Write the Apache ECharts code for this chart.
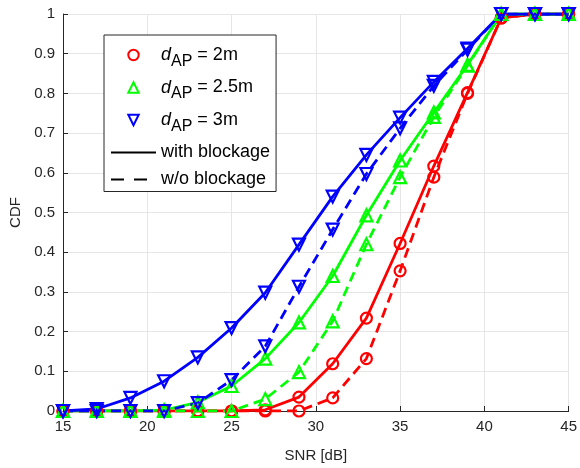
<!DOCTYPE html>
<html>
<head>
<meta charset="utf-8">
<script src="https://cdn.jsdelivr.net/npm/echarts@6/dist/echarts.min.js"></script>
<style>
  html, body { margin: 0; padding: 0; background: #fff; }
  #chart { width: 580px; height: 468px; }
</style>
</head>
<body>
<div id="chart"></div>
<script>
// SNR sample points (dB)
const snr = [15, 17, 19, 21, 23, 25, 27, 29, 31, 33, 35, 37, 39, 41, 43, 45]

// CDF values, with blockage (solid) and without (dashed)
const red2mWith     = [0, 0, 0, 0, 0, 0, 0.003, 0.035, 0.119, 0.234, 0.422, 0.617, 0.802, 0.99, 1, 1]
const red2mWithout  = [0, 0, 0, 0, 0, 0, 0, 0, 0.033, 0.132, 0.353, 0.589, 0.80, 0.99, 1, 1]
const green25With   = [0, 0, 0, 0.002, 0.022, 0.063, 0.132, 0.223, 0.34, 0.493, 0.631, 0.752, 0.872, 1, 1, 1]
const green25Without = [0, 0, 0, 0, 0, 0, 0.03, 0.098, 0.226, 0.42, 0.589, 0.741, 0.87, 1, 1, 1]
const blue3With     = [0, 0.005, 0.033, 0.075, 0.135, 0.209, 0.298, 0.419, 0.54, 0.645, 0.739, 0.829, 0.913, 1, 1, 1]
const blue3Without  = [0, 0, 0, 0, 0.02, 0.078, 0.163, 0.313, 0.457, 0.597, 0.712, 0.819, 0.91, 1, 1, 1]

const yTickLabels = ['0', '0.1', '0.2', '0.3', '0.4', '0.5', '0.6', '0.7', '0.8', '0.9', '1']

const RED = '#ff0000'
const GREEN = '#00ff00'
const BLUE = '#0000ff'
const DASH = [10, 6]
const LEGEND_DASH = [13, 10]

function pairs(ys) {
  return snr.map((x, i) => [x, ys[i]])
}

// marker shape per AP distance
const markers = {
  red: { symbol: 'circle', symbolSize: 11, symbolRotate: 0 },
  green: { symbol: 'triangle', symbolSize: 12, symbolRotate: 0 },
  blue: { symbol: 'triangle', symbolSize: 12, symbolRotate: 180 }
}

function curve(name, ys, color, mk, dashed) {
  return {
    name: name,
    type: 'line',
    data: pairs(ys),
    symbol: mk.symbol,
    symbolSize: mk.symbolSize,
    symbolRotate: mk.symbolRotate,
    showAllSymbol: true,
    lineStyle: { color: color, width: 2.8, type: dashed ? DASH : 'solid' },
    itemStyle: { color: 'rgba(0,0,0,0)', borderColor: color, borderWidth: 2.2 },
    emphasis: { disabled: true },
    z: 3
  }
}

// empty series that only feed the legend
function legendOnly(name, color, mk, lineType) {
  return {
    name: name,
    type: 'line',
    data: [],
    symbol: mk ? mk.symbol : 'none',
    symbolSize: mk ? mk.symbolSize : 0,
    symbolRotate: mk ? mk.symbolRotate : 0,
    lineStyle: { color: color, width: mk ? 0 : 2.8, type: lineType || 'solid' },
    itemStyle: {
      color: 'rgba(0,0,0,0)',
      borderColor: mk ? color : 'rgba(0,0,0,0)',
      borderWidth: mk ? 2.5 : 0
    }
  }
}

const legendText = {
  d2: '{i|d}{s|AP}{t| = 2m}',
  d25: '{i|d}{s|AP}{t| = 2.5m}',
  d3: '{i|d}{s|AP}{t| = 3m}',
  'with blockage': '{t|with blockage}',
  'w/o blockage': '{t|w/o blockage}'
}

const chart = echarts.init(document.getElementById('chart'))
const option = {
  backgroundColor: '#fff',
  animation: false,
  textStyle: { fontFamily: 'Liberation Sans, Arial, sans-serif' },
  grid: { left: 63, right: 11, top: 14, bottom: 57 },
  xAxis: {
    type: 'value',
    min: 15,
    max: 45,
    interval: 5,
    name: 'SNR [dB]',
    nameLocation: 'middle',
    nameGap: 37,
    nameTextStyle: { color: '#262626', fontSize: 15 },
    axisLine: { show: true, lineStyle: { color: '#262626', width: 1 } },
    axisTick: { show: true, inside: true, length: 5, lineStyle: { color: '#262626' } },
    axisLabel: { color: '#262626', fontSize: 15, margin: 8 },
    splitLine: { show: true, lineStyle: { color: '#e6e6e6', width: 1 } }
  },
  yAxis: {
    type: 'value',
    min: 0,
    max: 1,
    interval: 0.1,
    name: 'CDF',
    nameLocation: 'middle',
    nameGap: 33,
    nameTextStyle: { color: '#262626', fontSize: 15 },
    axisLine: { show: true, lineStyle: { color: '#262626', width: 1 } },
    axisTick: { show: true, inside: true, length: 5, lineStyle: { color: '#262626' } },
    axisLabel: {
      color: '#262626',
      fontSize: 15,
      margin: 8,
      formatter: v => yTickLabels[Math.round(v * 10)]
    },
    splitLine: { show: true, lineStyle: { color: '#e6e6e6', width: 1 } }
  },
  legend: {
    orient: 'vertical',
    left: 104,
    top: 35,
    padding: [11, 6, 3, 6],
    itemGap: 9,
    itemWidth: 45,
    itemHeight: 13,
    backgroundColor: '#fff',
    borderColor: '#262626',
    borderWidth: 1,
    selectedMode: false,
    data: [
      { name: 'd2' },
      { name: 'd25' },
      { name: 'd3' },
      { name: 'with blockage' },
      { name: 'w/o blockage', lineStyle: { type: LEGEND_DASH } }
    ],
    formatter: name => legendText[name],
    textStyle: {
      rich: {
        i: { fontStyle: 'italic', fontSize: 18, color: '#000', fontFamily: 'Liberation Sans, Arial' },
        s: { fontSize: 16, color: '#000', padding: [13, 0, 0, 0], fontFamily: 'Liberation Sans, Arial' },
        t: { fontSize: 18, color: '#000', fontFamily: 'Liberation Sans, Arial' }
      }
    }
  },
  series: [
    curve('red-with', red2mWith, RED, markers.red, false),
    curve('red-without', red2mWithout, RED, markers.red, true),
    curve('green-with', green25With, GREEN, markers.green, false),
    curve('green-without', green25Without, GREEN, markers.green, true),
    curve('blue-with', blue3With, BLUE, markers.blue, false),
    curve('blue-without', blue3Without, BLUE, markers.blue, true),
    legendOnly('d2', RED, markers.red),
    legendOnly('d25', GREEN, markers.green),
    legendOnly('d3', BLUE, markers.blue),
    legendOnly('with blockage', '#000', null, 'solid'),
    legendOnly('w/o blockage', '#000', null, LEGEND_DASH)
  ]
}
chart.setOption(option)
</script>
</body>
</html>
